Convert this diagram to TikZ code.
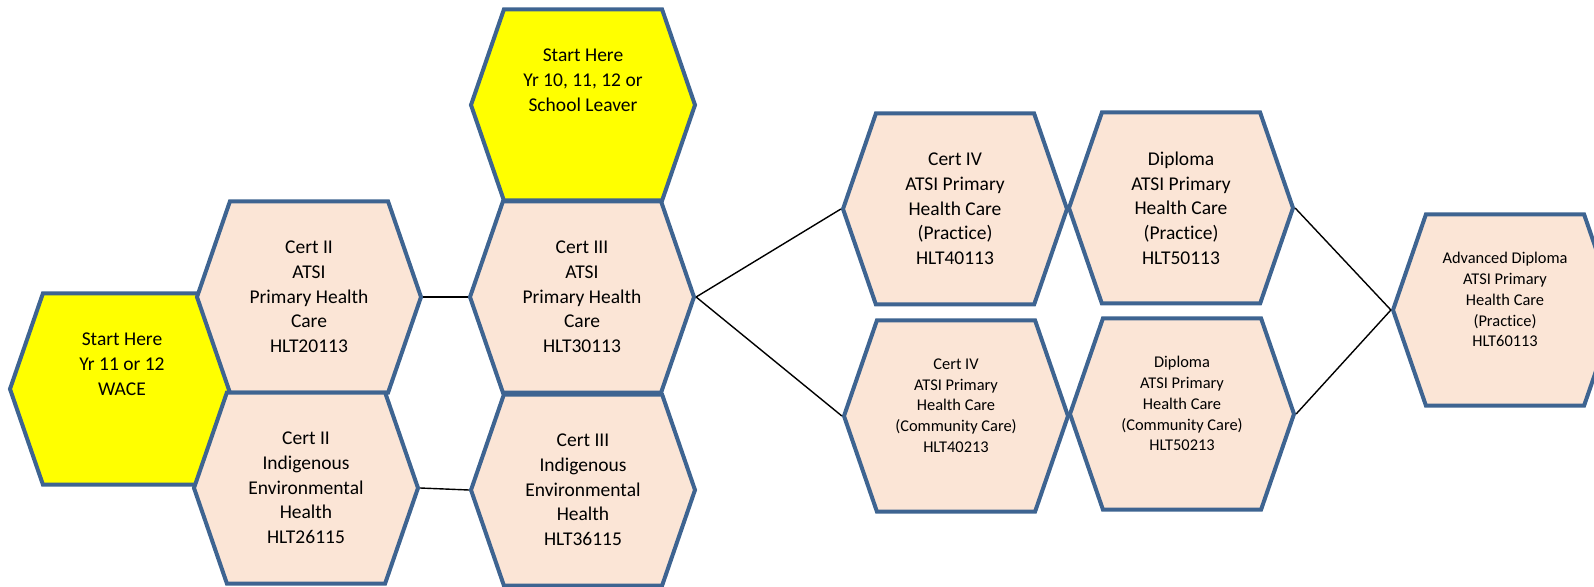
\documentclass[tikz,border=0pt]{standalone}
\usepackage{fontspec}
\setmainfont{Carlito}[Ligatures=NoCommon]
\usetikzlibrary{shapes.symbols}

\definecolor{hexblue}{RGB}{62,100,145}
\definecolor{peach}{RGB}{251,229,214}
\definecolor{startyellow}{RGB}{255,255,0}

\begin{document}
\begin{tikzpicture}[x=0.5pt,y=-0.5pt,
  hexcell/.style={signal, signal to=east and west, signal pointer angle=142,
    minimum width=112pt, minimum height=95.5pt, inner sep=0pt,
    draw=hexblue, line width=2pt, fill=peach, align=center,
    font=\fontsize{9.75}{12.35}\selectfont},
  starthex/.style={hexcell, fill=startyellow},
  smallhex/.style={hexcell, font=\fontsize{8.2}{10.4}\selectfont},
  link/.style={line width=0.7pt}]

  % Marco de la figura
  \useasboundingbox (0,0) rectangle (1594,587);
  \clip (0,0) rectangle (1594,587);

  % Puntos de partida
  \node[starthex] (startwace) at (122,389) {Start Here\\Yr 11 or 12\\WACE\\~\\~};
  \node[starthex] (startschool) at (583,105) {Start Here\\Yr 10, 11, 12 or\\School Leaver\\~\\~};

  % Certificados II y III
  \node[hexcell] (cert2atsi) at (309,297) {Cert II\\ATSI\\Primary Health\\Care\\HLT20113};
  \node[hexcell] (cert2ieh) at (306,488) {Cert II\\Indigenous\\Environmental\\Health\\HLT26115};
  \node[hexcell] (cert3atsi) at (582,297) {Cert III\\ATSI\\Primary Health\\Care\\HLT30113};
  \node[hexcell] (cert3ieh) at (583,490) {Cert III\\Indigenous\\Environmental\\Health\\HLT36115};

  % Certificado IV y diplomas
  \node[hexcell] (cert4prac) at (955,209) {Cert IV\\ATSI Primary\\Health Care\\(Practice)\\HLT40113};
  \node[smallhex] (cert4comm) at (956,416) {Cert IV\\ATSI Primary\\Health Care\\(Community Care)\\HLT40213\\~};
  \node[hexcell] (dipprac) at (1181,208) {Diploma\\ATSI Primary\\Health Care\\(Practice)\\HLT50113};
  \node[smallhex] (dipcomm) at (1182,414) {Diploma\\ATSI Primary\\Health Care\\(Community Care)\\HLT50213\\~};
  \node[smallhex] (advdip) at (1505,310) {Advanced Diploma\\ATSI Primary\\Health Care\\(Practice)\\HLT60113\\~};

  % Enlaces
  \draw[link] (cert2atsi.east) -- (cert3atsi.west);
  \draw[link] (cert2ieh.east) -- (cert3ieh.west);
  \draw[link] (cert3atsi.east) -- (cert4prac.west);
  \draw[link] (cert3atsi.east) -- (cert4comm.west);
  \draw[link] (dipprac.east) -- (advdip.west);
  \draw[link] (dipcomm.east) -- (advdip.west);
\end{tikzpicture}
\end{document}
